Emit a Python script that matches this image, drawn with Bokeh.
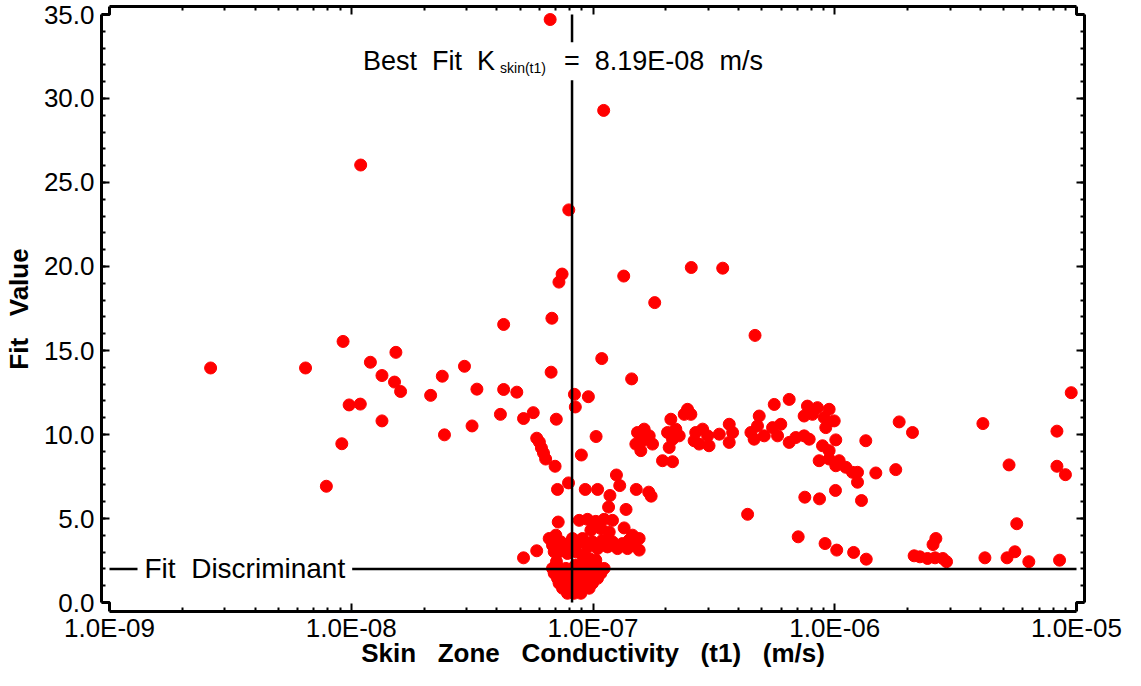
from bokeh.plotting import figure
from bokeh.models import (Range1d, LogAxis, LinearAxis, FixedTicker, PrintfTickFormatter,
                          CustomJSTickFormatter, Label)
from bokeh.embed import file_html
from bokeh.resources import INLINE

# ---------------- data ----------------
# scattered trials (K in m/s, fit value)
spread_k = [2.62e-9, 6.47e-9, 9.25e-9, 1.20e-8, 1.53e-8, 1.34e-8, 1.51e-8, 1.60e-8, 9.80e-9,
            1.09e-8, 1.34e-8, 9.14e-9, 7.89e-9, 1.094e-8, 2.13e-8, 2.38e-8, 2.43e-8, 2.94e-8,
            3.31e-8, 3.16e-8, 4.27e-8, 4.27e-8, 4.14e-8, 4.84e-8, 5.16e-8, 5.66e-8, 6.71e-8,
            7.05e-8, 5.85e-8, 6.00e-8, 6.12e-8, 6.24e-8, 6.37e-8, 6.97e-8, 7.13e-8, 7.92e-8,
            7.18e-8, 8.38e-8, 8.45e-8, 9.29e-8, 8.95e-8, 5.16e-8, 5.85e-8, 6.65e-8, 7.94e-8,
            7.45e-8, 7.23e-8, 6.76e-8, 1.107e-7, 1.34e-7, 2.55e-7, 3.44e-7, 1.80e-7, 4.68e-7,
            1.087e-7, 1.445e-7, 9.57e-8, 1.03e-7, 1.045e-7, 1.25e-7, 1.29e-7, 1.175e-7, 1.16e-7,
            1.37e-7, 1.51e-7, 1.70e-7, 1.74e-7]
spread_fit = [13.96, 13.96, 15.54, 14.30, 14.89, 13.51, 13.12, 12.56, 11.76,
              11.81, 10.81, 9.45, 6.92, 26.04, 12.33, 13.47, 9.98, 14.06,
              12.70, 10.51, 16.55, 12.68, 11.20, 12.52, 10.95, 11.30, 13.71,
              10.91, 9.78, 9.55, 9.20, 8.90, 8.54, 8.11, 6.73, 7.12,
              4.79, 12.39, 11.64, 6.73, 8.78, 2.66, 3.08, 34.70, 23.37,
              19.55, 19.07, 16.92, 29.29, 19.43, 19.94, 19.90, 17.85, 15.90,
              14.52, 13.31, 12.25, 9.88, 6.73, 7.59, 6.96, 6.37, 5.68,
              5.54, 6.73, 6.57, 6.33]

# dense cluster around the best fit
cluster_k = [8.77e-8, 9.49e-8, 1.027e-7, 1.112e-7, 1.204e-7, 9.80e-8, 1.078e-7, 1.167e-7, 1.345e-7,
             1.457e-7, 1.552e-7, 8.63e-8, 9.05e-8, 9.49e-8, 9.95e-8, 1.044e-7, 1.095e-7, 1.148e-7,
             1.204e-7, 1.263e-7, 1.324e-7, 1.389e-7, 1.457e-7, 1.552e-7, 1.411e-7, 8.49e-8, 9.05e-8,
             9.64e-8, 1.027e-7, 6.59e-8, 6.80e-8, 7.02e-8, 7.36e-8, 7.60e-8, 7.97e-8, 8.22e-8,
             8.35e-8, 7.84e-8, 7.24e-8, 6.91e-8, 7.06e-8,
             8.49e-8, 9.05e-8, 9.64e-8, 1.027e-7,
             6.80e-8, 7.24e-8, 7.72e-8, 8.22e-8, 8.77e-8, 9.34e-8, 9.95e-8, 1.061e-7, 1.112e-7,
             6.91e-8, 7.36e-8, 7.84e-8, 8.35e-8, 8.91e-8, 9.49e-8, 1.011e-7, 1.078e-7,
             7.13e-8, 7.60e-8, 8.09e-8, 8.63e-8, 9.19e-8, 9.80e-8, 1.044e-7,
             7.24e-8, 7.72e-8, 8.22e-8, 8.77e-8, 9.34e-8, 9.95e-8,
             7.48e-8, 7.97e-8, 8.49e-8, 9.05e-8, 9.64e-8,
             7.84e-8, 8.35e-8, 8.91e-8]
cluster_fit = [4.89, 4.95, 4.83, 4.95, 4.89, 4.30, 4.40, 4.20, 4.44,
               4.01, 3.81, 3.51, 3.81, 3.31, 3.61, 3.21, 3.71, 3.31,
               3.61, 3.21, 3.51, 3.21, 3.41, 3.12, 3.71, 3.02, 2.82,
               2.62, 2.53, 3.81, 3.41, 4.01, 3.61, 3.21, 3.51, 3.81,
               3.31, 2.92, 3.02, 3.02, 2.43,
               2.23, 2.23, 2.23, 2.23,
               2.03, 2.03, 2.03, 2.03, 2.03, 2.03, 2.03, 2.03, 2.03,
               1.74, 1.74, 1.74, 1.74, 1.74, 1.74, 1.74, 1.74,
               1.44, 1.44, 1.44, 1.44, 1.44, 1.44, 1.44,
               1.15, 1.15, 1.15, 1.15, 1.15, 1.15,
               0.85, 0.85, 0.85, 0.85, 0.85,
               0.55, 0.55, 0.55]

# arched band between 1.5E-07 and 2E-06
band_k = [1.528e-7, 1.628e-7, 1.504e-7, 1.602e-7, 1.708e-7, 1.763e-7, 1.577e-7, 1.939e-7, 2.133e-7,
          2.099e-7, 2.034e-7, 2.201e-7, 2.133e-7, 2.066e-7, 2.273e-7, 2.46e-7, 2.54e-7, 2.384e-7,
          2.66e-7, 2.84e-7, 2.98e-7, 2.75e-7, 3.02e-7, 2.62e-7, 3.33e-7, 3.66e-7, 3.78e-7,
          3.66e-7, 4.50e-7, 4.87e-7, 4.79e-7, 5.11e-7, 4.64e-7, 5.62e-7, 6.48e-7, 5.53e-7,
          5.98e-7, 5.80e-7, 6.48e-7, 6.90e-7, 7.47e-7, 7.84e-7, 7.71e-7, 8.48e-7, 9.48e-7,
          7.47e-7, 8.09e-7, 9.04e-7, 9.95e-7, 9.18e-7, 8.90e-7, 9.48e-7, 1.010e-6, 8.62e-7,
          9.48e-7, 1.043e-6, 1.111e-6, 1.010e-6, 1.184e-6, 1.242e-6, 1.242e-6, 1.344e-6, 1.479e-6,
          1.788e-6, 1.847e-6, 2.097e-6]
band_fit = [10.12, 10.32, 9.43, 9.63, 9.92, 9.43, 9.04, 8.44, 8.38,
            10.91, 10.12, 10.32, 9.72, 9.23, 9.92, 11.50, 11.20, 11.20,
            10.12, 10.32, 9.92, 9.43, 9.33, 9.63, 10.02, 10.61, 10.12,
            9.53, 10.12, 11.10, 10.51, 9.92, 9.72, 11.79, 12.09, 10.41,
            10.61, 9.92, 9.53, 9.82, 9.92, 9.72, 11.69, 11.60, 11.50,
            11.10, 11.20, 11.01, 10.81, 10.41, 9.33, 9.04, 9.68, 8.44,
            8.54, 8.44, 8.05, 8.14, 7.75, 7.75, 7.16, 9.63, 7.71,
            7.91, 10.75, 10.12]

# high-conductivity trials
high_k = [7.52e-7, 8.65e-7, 1.007e-6, 1.29e-6, 4.36e-7, 4.10e-6, 5.26e-6, 8.30e-6, 8.30e-6,
          9.00e-6, 9.51e-6, 5.66e-6, 7.06e-7, 9.12e-7, 1.019e-6, 1.197e-6, 1.35e-6, 2.62e-6,
          2.55e-6, 2.13e-6, 2.25e-6, 2.42e-6, 2.60e-6, 2.80e-6, 2.90e-6, 4.18e-6, 5.16e-6,
          5.56e-6, 6.35e-6, 8.51e-6]
high_fit = [6.27, 6.17, 6.67, 6.07, 5.25, 10.65, 8.19, 10.20, 8.11,
            7.61, 12.49, 4.69, 3.91, 3.51, 3.12, 2.98, 2.58, 3.81,
            3.45, 2.78, 2.72, 2.62, 2.66, 2.62, 2.43, 2.66, 2.66,
            3.02, 2.43, 2.52]

best_fit_k = 8.19e-8          # m/s
fit_discriminant = 2.0

x_ticks = [1e-9, 1e-8, 1e-7, 1e-6, 1e-5]
y_ticks = [0, 5, 10, 15, 20, 25, 30, 35]
x_lo, x_hi = 1e-9, 1e-5
y_lo, y_hi = 0.0, 35.0

NB = "\u00a0\u00a0"   # the chart's wide word spacing
NB3 = "\u00a0\u00a0\u00a0"
x_title = NB3.join(["Skin", "Zone", "Conductivity", "(t1)", "(m/s)"])
y_title = NB3.join(["Fit", "Value"])
disc_text = NB.join(["Fit", "Discriminant"])
best_text = NB.join(["Best", "Fit", "K"])
best_sub = "skin(t1)"
best_value = NB.join(["=", f"{best_fit_k:.2E}", "m/s"])

# ---------------- figure ----------------
conductivity = spread_k + cluster_k + band_k + high_k
fit_value = spread_fit + cluster_fit + band_fit + high_fit

W, H = 1125, 670
FL, FR, FT, FB = 101, 1084, 6, 612          # frame edges (canvas px)
GAP = 8                                     # offset of the axes from the data area
PX_PER_DECADE = (FR - FL - 2 * GAP) / 4.0
PX_PER_UNIT = (FB - FT - GAP - 9) / 35.0
x_range = Range1d(10 ** (-9 - GAP / PX_PER_DECADE), 10 ** (-5 + GAP / PX_PER_DECADE))
y_range = Range1d(y_lo - 9 / PX_PER_UNIT, y_hi + GAP / PX_PER_UNIT)

p = figure(width=W, height=H, x_axis_type="log", x_range=x_range, y_range=y_range,
           output_backend="svg", toolbar_location=None,
           min_border_left=FL, min_border_right=W - FR, min_border_top=FT, min_border_bottom=H - FB)
p.outline_line_color = None
p.grid.visible = False
p.background_fill_color = "white"
p.border_fill_color = "white"

FONT = "Liberation Sans"
x_minor = [m * t for t in x_ticks[:-1] for m in range(2, 10)]
y_minor = list(range(0, 36))

x_fmt = CustomJSTickFormatter(code="""
    const e = Math.round(Math.log10(tick));
    const a = Math.abs(e);
    return "1.0E" + (e < 0 ? "-" : "+") + (a < 10 ? "0" : "") + a;
""")
blank_fmt = CustomJSTickFormatter(code="return '';")


def style(ax):
    ax.axis_line_width = 3
    ax.axis_line_color = "black"
    ax.major_tick_line_width = 2
    ax.minor_tick_line_width = 2
    ax.major_tick_in = 8
    ax.major_tick_out = 0
    ax.minor_tick_in = 4
    ax.minor_tick_out = 0
    ax.major_label_text_font = FONT
    ax.major_label_text_color = "black"
    ax.axis_label_text_font = FONT
    ax.axis_label_text_font_style = "bold"
    ax.axis_label_text_color = "black"


xb = p.xaxis[0]
style(xb)
xb.ticker = FixedTicker(ticks=x_ticks, minor_ticks=x_minor)
xb.formatter = x_fmt
xb.bounds = (x_lo, x_hi)
xb.major_label_text_font_size = "26px"
xb.major_label_standoff = 1
xb.axis_label = x_title
xb.axis_label_text_font_size = "26px"
xb.axis_label_standoff = -8

yl = p.yaxis[0]
style(yl)
yl.ticker = FixedTicker(ticks=y_ticks, minor_ticks=y_minor)
yl.formatter = PrintfTickFormatter(format="%.1f")
yl.bounds = (y_lo, y_hi)
yl.major_label_text_font_size = "26px"
yl.major_label_standoff = 7
yl.axis_label = y_title
yl.axis_label_text_font_size = "26px"
yl.axis_label_standoff = 7

xt = LogAxis(ticker=FixedTicker(ticks=x_ticks, minor_ticks=x_minor), bounds=(x_lo, x_hi),
             formatter=blank_fmt)
style(xt)
xt.major_label_text_font_size = "1px"
xt.major_label_standoff = 0
p.add_layout(xt, "above")

yr = LinearAxis(ticker=FixedTicker(ticks=y_ticks, minor_ticks=y_minor), bounds=(y_lo, y_hi),
                formatter=blank_fmt)
style(yr)
yr.major_label_text_font_size = "1px"
yr.major_label_standoff = 0
p.add_layout(yr, "right")

# corner joints between the offset axes
xs0, xs1 = x_range.start, x_range.end
ys0, ys1 = y_range.start, y_range.end
p.multi_line(xs=[[xs0, x_lo, x_lo], [xs0, x_lo, x_lo], [x_hi, x_hi, xs1], [xs1, x_hi, x_hi]],
             ys=[[y_lo, y_lo, ys0], [y_hi, y_hi, ys1], [ys1, y_hi, y_hi], [y_lo, y_lo, ys0]],
             line_color="black", line_width=3)

# data points
p.scatter(conductivity, fit_value, size=12, fill_color="#ff0000", line_color="#ff0000")

# reference lines
p.segment(x0=[best_fit_k], y0=[y_lo], x1=[best_fit_k], y1=[y_hi], line_color="black", line_width=2.5)
p.segment(x0=[x_lo], y0=[fit_discriminant], x1=[x_hi], y1=[fit_discriminant],
          line_color="black", line_width=2.5)

p.add_layout(Label(x=x_lo, y=fit_discriminant, x_offset=35, text=disc_text,
                   text_align="left", text_baseline="middle", text_font=FONT,
                   text_font_size="28px", text_color="black",
                   background_fill_color="white",
                   border_line_color="white", border_line_width=14))

ANN_Y = 32.21
p.add_layout(Label(x=best_fit_k, y=ANN_Y, x_offset=-209, text=best_text,
                   text_align="left", text_baseline="alphabetic", text_font=FONT,
                   text_font_size="27px", text_color="black"))
p.add_layout(Label(x=best_fit_k, y=ANN_Y, x_offset=-72, y_offset=-7, text=best_sub,
                   text_align="left", text_baseline="alphabetic", text_font=FONT,
                   text_font_size="14px", text_color="black"))
p.add_layout(Label(x=best_fit_k, y=ANN_Y, x_offset=-8, text=best_value,
                   text_align="left", text_baseline="alphabetic", text_font=FONT,
                   text_font_size="27px", text_color="black",
                   background_fill_color="white",
                   border_line_color="white", border_line_width=8))

open("out.html", "w").write(file_html(p, INLINE))
